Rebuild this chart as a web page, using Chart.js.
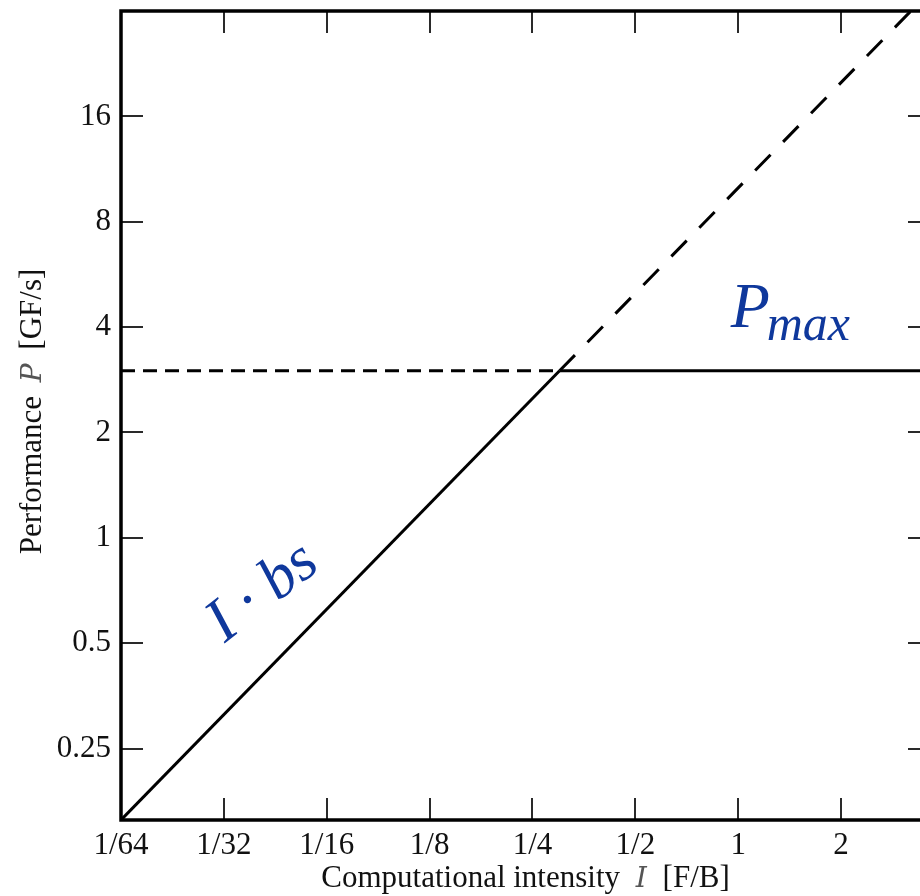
<!DOCTYPE html>
<html>
<head>
<meta charset="utf-8">
<script src="https://cdn.jsdelivr.net/npm/chart.js@4"></script>
<style>
  html, body { margin: 0; padding: 0; background: #fff; overflow: hidden; }
  #wrap { position: relative; width: 960px; height: 896px; }
</style>
</head>
<body>
<div id="wrap"><canvas id="roofline" width="960" height="896"></canvas></div>
<script>
// Roofline model: memory bandwidth bs = 10 GB/s, peak performance Pmax = 3 GF/s
const xTickValues = [1/64, 1/32, 1/16, 1/8, 1/4, 1/2, 1, 2];
const xTickLabels = ['1/64', '1/32', '1/16', '1/8', '1/4', '1/2', '1', '2'];
const yTickValues = [0.25, 0.5, 1, 2, 4, 8, 16];
const yTickLabels = ['0.25', '0.5', '1', '2', '4', '8', '16'];
const xRange = [1/64, 3.64];
const yRange = [0.15625, 32];

// memory-bound roof  P = I * bs  (solid up to the ridge point, dashed beyond)
const memIntensitySolid = [1/64, 0.3];
const memPerfSolid = [0.15625, 3];
const memIntensityDashed = [0.3, 3.2];
const memPerfDashed = [3, 32];
// compute-bound roof  P = Pmax  (dashed below the ridge point, solid beyond)
const peakIntensityDashed = [1/64, 0.3];
const peakPerfDashed = [3, 3];
const peakIntensitySolid = [0.3, 3.64];
const peakPerfSolid = [3, 3];

const pts = (xs, ys) => xs.map((x, i) => ({ x, y: ys[i] }));

const SERIF = '"Liberation Serif", "Times New Roman", serif';
const BLUE = '#0f389c';

const line = (data, dash) => ({
  data, showLine: true, borderColor: '#000', borderWidth: 3,
  borderDash: dash, pointRadius: 0, fill: false, tension: 0,
  borderCapStyle: 'butt'
});

const framePlugin = {
  id: 'frameAndText',
  afterDraw(chart) {
    const { ctx, chartArea: a, scales } = chart;
    const xs = scales.x, ys = scales.y;
    ctx.save();
    // inward ticks on all four sides
    ctx.strokeStyle = '#2a2a2a';
    ctx.lineWidth = 2;
    const TL = 22;
    ctx.beginPath();
    xTickValues.forEach(v => {
      const px = Math.round(xs.getPixelForValue(v));
      ctx.moveTo(px, a.bottom); ctx.lineTo(px, a.bottom - TL);
      ctx.moveTo(px, a.top); ctx.lineTo(px, a.top + TL);
    });
    yTickValues.forEach(v => {
      const py = Math.round(ys.getPixelForValue(v));
      ctx.moveTo(a.left, py); ctx.lineTo(a.left + TL, py);
      ctx.moveTo(a.right, py); ctx.lineTo(a.right - TL, py);
    });
    ctx.stroke();
    // frame
    ctx.strokeStyle = '#000';
    ctx.lineWidth = 3.5;
    ctx.strokeRect(a.left, a.top, a.right - a.left, a.bottom - a.top);

    // axis titles with an italic symbol
    const drawParts = (parts, cx, cy) => {
      let total = 0;
      parts.forEach(p => { ctx.font = p.font; p.w = ctx.measureText(p.t).width + (p.gap || 0) * 2; total += p.w; });
      let x = cx - total / 2;
      parts.forEach(p => {
        ctx.font = p.font; ctx.fillStyle = p.color;
        ctx.fillText(p.t, x + (p.gap || 0), cy);
        x += p.w;
      });
    };
    ctx.textBaseline = 'alphabetic';
    ctx.textAlign = 'left';
    const tf = '31px ' + SERIF;
    const sym = 'italic 28px "DejaVu Serif", serif';
    drawParts([
      { t: 'Computational intensity ', font: tf, color: '#111' },
      { t: 'I', font: sym, color: '#555', gap: 8 },
      { t: ' [F/B]', font: tf, color: '#111' }
    ], (a.left + a.right) / 2, 887);

    ctx.save();
    ctx.translate(41, (a.top + a.bottom) / 2 - 4);
    ctx.rotate(-Math.PI / 2);
    drawParts([
      { t: 'Performance ', font: tf, color: '#111' },
      { t: 'P', font: sym, color: '#555', gap: 6 },
      { t: ' [GF/s]', font: tf, color: '#111' }
    ], 0, 0);
    ctx.restore();

    // annotations
    ctx.fillStyle = BLUE;
    const px = xs.getPixelForValue(0.95), py = ys.getPixelForValue(4);
    ctx.font = 'italic 64px ' + SERIF;
    ctx.fillText('P', px, py);
    const pw = ctx.measureText('P').width;
    ctx.font = 'italic 50px ' + SERIF;
    ctx.fillText('max', px + pw - 3, py + 13);

    const bx = xs.getPixelForValue(0.0435), by = ys.getPixelForValue(0.64);
    ctx.save();
    ctx.translate(bx, by);
    ctx.rotate(-38 * Math.PI / 180);
    ctx.textAlign = 'center';
    ctx.font = 'italic 62px ' + SERIF;
    ctx.fillText('I · bs', 0, 0);
    ctx.restore();

    ctx.restore();
  }
};

new Chart(document.getElementById('roofline'), {
  type: 'scatter',
  data: {
    datasets: [
      line(pts(memIntensitySolid, memPerfSolid), []),
      line(pts(memIntensityDashed, memPerfDashed), [22, 18]),
      line(pts(peakIntensityDashed, peakPerfDashed), [14, 8]),
      line(pts(peakIntensitySolid, peakPerfSolid), [])
    ]
  },
  options: {
    responsive: false,
    animation: false,
    layout: { padding: { top: 11, right: 30, left: 0, bottom: 0 } },
    plugins: { legend: { display: false }, tooltip: { enabled: false } },
    scales: {
      x: {
        type: 'logarithmic', position: 'bottom',
        min: xRange[0], max: xRange[1],
        grid: { display: false, drawTicks: false },
        border: { display: false },
        afterBuildTicks: s => { s.ticks = xTickValues.map(v => ({ value: v })); },
        afterFit: s => { s.height = 76; s.paddingLeft = 0; s.paddingRight = 0; },
        ticks: {
          autoSkip: false, maxRotation: 0, padding: 7,
          color: '#111', font: { family: SERIF, size: 31 },
          callback: v => { const i = xTickValues.findIndex(t => Math.abs(t - v) < 1e-9); return i >= 0 ? xTickLabels[i] : ''; }
        }
      },
      y: {
        type: 'logarithmic', position: 'left',
        min: yRange[0], max: yRange[1],
        grid: { display: false, drawTicks: false },
        border: { display: false },
        afterBuildTicks: s => { s.ticks = yTickValues.map(v => ({ value: v })); },
        afterFit: s => { s.width = 121; s.paddingTop = 0; s.paddingBottom = 0; },
        ticks: {
          autoSkip: false, padding: 10,
          color: '#111', font: { family: SERIF, size: 31 },
          callback: v => { const i = yTickValues.findIndex(t => Math.abs(t - v) < 1e-9); return i >= 0 ? yTickLabels[i] : ''; }
        }
      }
    }
  },
  plugins: [framePlugin]
});
</script>
</body>
</html>
